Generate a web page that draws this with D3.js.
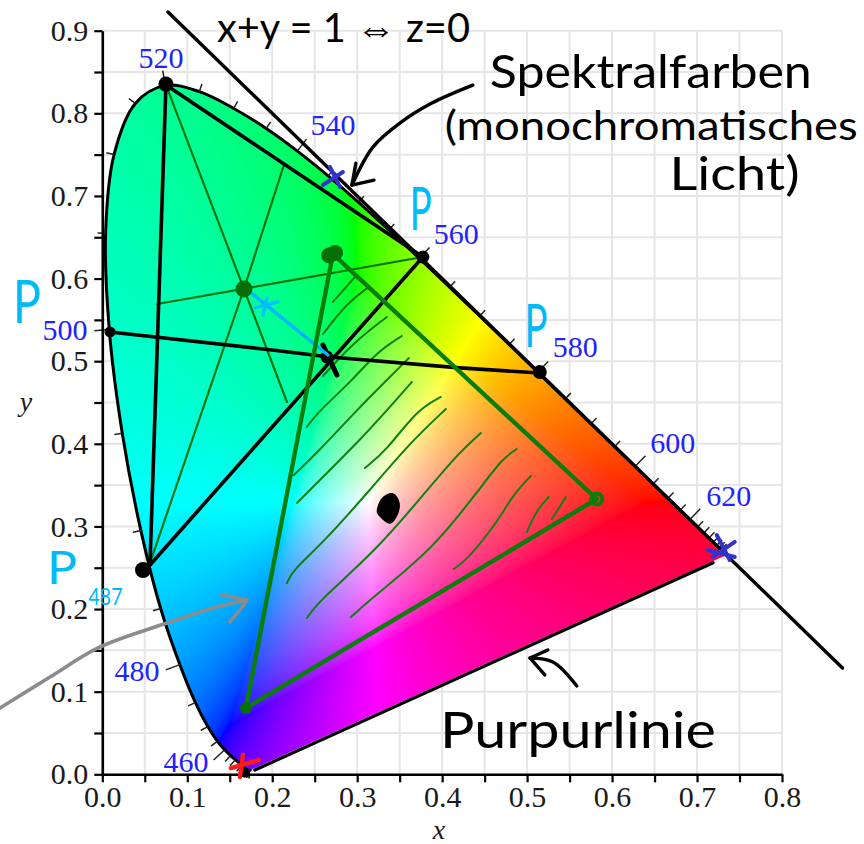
<!DOCTYPE html>
<html>
  <head>
    <meta charset="utf-8" />
    <title>CIE Normfarbtafel</title>
    <style>
      body {
        margin: 0;
        background: #fff;
      }
    </style>
    <script src="https://d3js.org/d3.v7.min.js"></script>
  </head>
  <body>
    <div id="chart"></div>
    <script>
      // spectral locus, every 5 nm
      var wavelengths = [380,385,390,395,400,405,410,415,420,425,430,435,440,445,450,455,460,465,470,475,480,485,490,495,500,505,510,515,520,525,530,535,540,545,550,555,560,565,570,575,580,585,590,595,600,605,610,615,620,625,630,635,640,645,650,655,660,700];
      var locusX = [.1741,.1740,.1738,.1736,.1733,.1730,.1726,.1721,.1714,.1703,.1689,.1669,.1644,.1611,.1566,.1510,.1440,.1355,.1241,.1096,.0913,.0687,.0454,.0235,.0082,.0039,.0139,.0389,.0743,.1142,.1547,.1929,.2296,.2658,.3016,.3373,.3731,.4087,.4441,.4788,.5125,.5448,.5752,.6029,.6270,.6482,.6658,.6801,.6915,.7006,.7079,.7140,.7190,.7230,.7260,.7283,.7300,.7347];
      var locusY = [.0050,.0050,.0049,.0049,.0048,.0048,.0048,.0048,.0051,.0058,.0069,.0086,.0109,.0138,.0177,.0227,.0297,.0399,.0578,.0868,.1327,.2007,.2950,.4127,.5384,.6548,.7502,.8120,.8338,.8262,.8059,.7816,.7543,.7243,.6923,.6589,.6245,.5896,.5547,.5202,.4866,.4544,.4242,.3965,.3725,.3514,.3340,.3197,.3083,.2993,.2920,.2859,.2809,.2770,.2740,.2717,.2700,.2653];

      var xTicks = d3.range(0, 17).map(function(i) { return i / 20; });
      var yTicks = d3.range(0, 19).map(function(i) { return i / 20; });

      // blue wavelength labels: text, x, y (baseline)
      var waveLabels = [
        ["520", .0691, .8549], ["540", .2714, .7738], ["560", .4167, .6419],
        ["580", .5567, .5051], ["600", .6714, .3889], ["620", .7373, .3247],
        ["500", -.0439, .5257], ["480", .0408, .1129], ["460", .0985, .0028]
      ];

      // straight construction lines
      var unitLine = [[.0773, .9227], [.8712, .1287]];
      var purpleLine = [[.1796, .0052], [.7189, .2561]];
      var blackLines = [
        [[.0749, .8344], [.3773, .6261]],
        [[.0749, .8344], [.0561, .2534]],
        [[.0561, .2534], [.3773, .6261]],
        [[.0091, .5354], [.1997, .5136], [.2679, .5051], [.4208, .4919], [.5149, .4857]]
      ];
      var blackDots = [[.0749, .8354, 7.5], [.3773, .6261, 6.5], [.5149, .4869, 7], [.0091, .5354, 5.5], [.0479, .2473, 8], [.2644, .5051, 6.5], [.1679, .0016, 4.5]];

      var thinGreen = [
        [[.0749, .8344], [.1667, .5874], [.2173, .4506]],
        [[.2138, .7375], [.1667, .5874], [.0549, .2521]],
        [[.0644, .5692], [.3773, .6261]]
      ];
      var greenTriangle = [[.2714, .6298], [.5820, .3332], [.1691, .0803], [.2714, .6298]];
      var greenDots = [[.1667, .5874, 8.5], [.2670, .6280, 8], [.2740, .6310, 8], [.1691, .0803, 6]];
      var greenRing = [.5820, .3332];

      // hatching inside the triangle
      var hatches = [
        [[.2714,.5717],[.2820,.5838],[.2973,.6019]],
        [[.2597,.5329],[.2879,.5705],[.3138,.5898]],
        [[.2597,.4821],[.2949,.5220],[.3350,.5535]],
        [[.2408,.4204],[.2538,.4385],[.2949,.4773],[.3232,.5112],[.3526,.5305]],
        [[.2255,.3623],[.2561,.3925],[.2997,.4410],[.3350,.4773],[.3608,.5039]],
        [[.2291,.3284],[.2644,.3647],[.3032,.4046],[.3385,.4446],[.3644,.4748]],
        [[.3091,.3707],[.3350,.3925],[.3702,.4410],[.3985,.4567]],
        [[.2173,.2315],[.2244,.2473],[.2597,.2800],[.3150,.3441],[.3620,.4010],[.4044,.4422]],
        [[.2408,.1892],[.2561,.2110],[.3232,.2715],[.3855,.3478],[.4208,.3901],[.4455,.4131]],
        [[.2926,.1904],[.3150,.2110],[.3538,.2437],[.3938,.2800],[.4408,.3405],[.4714,.3829],[.4879,.3937]],
        [[.4138,.2485],[.4291,.2594],[.4644,.3042],[.4832,.3381],[.5044,.3611]],
        [[.4997,.2933],[.5114,.3199],[.5255,.3356]],
        [[.5291,.3090],[.5456,.3356]]
      ];

      var cyanLine = [[.1738, .5838], [.2655, .5075]];
      var cyanCross = [[[.1797,.5644],[.2067,.5717]], [[.1938,.5765],[.1891,.5559]]];
      var blackCross = [[[.2597,.5196],[.2761,.4833]]];
      var whitePoint = [[.3243,.3222],[.3314,.3356],[.3420,.3393],[.3491,.3284],[.3455,.3114],[.3385,.3042],[.3243,.3163]];

      var greyArrow = [[-.1204,.0802],[-.0615,.1178],[-.0027,.1541],[.0761,.1831],[.1302,.2013],[.1702,.2110]];
      var greyHead = [[.1408,.2170],[.1702,.2110],[.1620,.1989],[.1502,.1844]];
      var spektralArrow = [[.4361,.8341],[.3879,.8124],[.3502,.7882],[.3185,.7591],[.2938,.7131]];
      var spektralHead = [[.2985,.7397],[.2938,.7131],[.3197,.7191]];
      var purpurArrow = [[.5585,.1069],[.5303,.1359],[.5033,.1408]];
      var purpurHead = [[.5244,.1504],[.5033,.1408],[.5208,.1202]];

      var blueCross = [
        [[.2597,.7133],[.2832,.7290]], [[.2679,.7351],[.2797,.7109]],
        [[.7126,.2715],[.7444,.2630]], [[.7232,.2896],[.7385,.2594]], [[.7444,.2812],[.7185,.2630]]
      ];
      var redCross = [[[.1514,.0076],[.1844,.0173]], [[.1655,.0234],[.1620,-.0033]]];

      // handwritten notes: text, x, y (baseline), size, width in px, colour
      var notes = [
        ["x+y = 1 ⇔ z=0", .1350, .8862, 40, 253, "#000"],
        ["Spektralfarben", .4561, .8306, 46, 322, "#000"],
        ["(monochromatisches", .4031, .7677, 40, 413, "#000"],
        ["Licht)", .6677, .7072, 46, 130, "#000"],
        ["Purpurlinie", .3974, .0318, 50, 276, "#000"],
        ["P", -.1050, .5463, 60, 28, "#00b9f7"],
        ["P", .3620, .6590, 60, 22, "#00b9f7"],
        ["P", .4970, .5175, 60, 23, "#00b9f7"],
        ["P", -.0651, .2300, 46, 30, "#00b9f7"],
        ["487", -.0162, .2050, 23, 34, "#00b9f7"]
      ];

      var width = 864, height = 844;
      var x = d3.scaleLinear().domain([0, 0.8]).range([102.3, 782]);
      var y = d3.scaleLinear().domain([0, 0.9]).range([774.3, 30.7]);

      var svg = d3.select("#chart").append("svg")
        .attr("width", width)
        .attr("height", height)
        .style("display", "block");

      // grid
      svg.append("g").selectAll("line").data(xTicks).join("line")
        .attr("x1", function(d) { return x(d); }).attr("x2", function(d) { return x(d); })
        .attr("y1", y(0)).attr("y2", y(0.9))
        .attr("stroke", "#e6e6e6").attr("stroke-width", 2);
      svg.append("g").selectAll("line").data(yTicks).join("line")
        .attr("x1", x(0)).attr("x2", x(0.8))
        .attr("y1", function(d) { return y(d); }).attr("y2", function(d) { return y(d); })
        .attr("stroke", "#e6e6e6").attr("stroke-width", 2);

      var locus = wavelengths.map(function(w, i) { return [locusX[i], locusY[i]]; });

      var line = d3.line().x(function(d) { return x(d[0]); }).y(function(d) { return y(d[1]); });
      var hand = d3.line().x(function(d) { return x(d[0]); }).y(function(d) { return y(d[1]); }).curve(d3.curveCatmullRom);
      var hatch = d3.line().x(function(d) { return x(d[0]); }).y(function(d) { return y(d[1]); }).curve(d3.curveBasis);
      var blob = d3.line().x(function(d) { return x(d[0]); }).y(function(d) { return y(d[1]); }).curve(d3.curveCatmullRomClosed);

      // colour fill of the horseshoe, clipped to the locus
      function gamma(c) {
        return 255 * Math.pow(c, 0.6);
      }
      function chroma(cx, cy) {
        var X = cx / cy, Z = (1 - cx - cy) / cy;
        var r = 3.2406 * X - 1.5372 - 0.4986 * Z;
        var g = -0.9689 * X + 1.8758 + 0.0415 * Z;
        var b = 0.0557 * X - 0.2040 + 1.0570 * Z;
        var low = Math.min(r, g, b, 0);
        r -= low; g -= low; b -= low;
        var m = Math.max(r, g, b);
        return [gamma(r / m), gamma(g / m), gamma(b / m)];
      }
      var canvas = document.createElement("canvas");
      canvas.width = width;
      canvas.height = height;
      var ctx = canvas.getContext("2d");
      var img = ctx.createImageData(width, height);
      for (var py = 20; py < 772; py++) {
        for (var px = 95; px < 740; px++) {
          var c = chroma(x.invert(px + 0.5), y.invert(py + 0.5)), k = (py * width + px) * 4;
          img.data[k] = c[0];
          img.data[k + 1] = c[1];
          img.data[k + 2] = c[2];
          img.data[k + 3] = 255;
        }
      }
      ctx.putImageData(img, 0, 0);
      svg.append("clipPath").attr("id", "locus-clip")
        .append("path").attr("d", hand(locus) + "Z");
      svg.append("image")
        .attr("width", width).attr("height", height)
        .attr("clip-path", "url(#locus-clip)")
        .attr("href", canvas.toDataURL());

      function strokes(data, gen, colour, w, cls) {
        svg.append("g").attr("class", cls).selectAll("path").data(data).join("path")
          .attr("d", gen)
          .attr("fill", "none")
          .attr("stroke", colour)
          .attr("stroke-width", w)
          .attr("stroke-linecap", "round")
          .attr("stroke-linejoin", "round");
      }
      function dots(data, colour) {
        svg.append("g").selectAll("circle").data(data).join("circle")
          .attr("cx", function(d) { return x(d[0]); })
          .attr("cy", function(d) { return y(d[1]); })
          .attr("r", function(d) { return d[2]; })
          .attr("fill", colour);
      }

      // outline of the locus
      strokes([locus], hand, "#000", 3, "locus");

      // wavelength ticks, outward from the white point
      var labelled = waveLabels.map(function(d) { return +d[0]; });
      var tickData = wavelengths.slice(0, -1).map(function(w, i) {
        var a = locus[Math.max(i - 1, 0)], b = locus[i + 1];
        var tx = x(b[0]) - x(a[0]), ty = y(b[1]) - y(a[1]);
        var n = Math.hypot(tx, ty) || 1;
        var nx = ty / n, ny = -tx / n;
        var px0 = x(locus[i][0]), py0 = y(locus[i][1]);
        if (nx * (px0 - x(0.33)) + ny * (py0 - y(0.33)) < 0) { nx = -nx; ny = -ny; }
        return { x0: px0, y0: py0, nx: nx, ny: ny, len: labelled.indexOf(w) >= 0 ? 15 : 8 };
      }).filter(function(d, i) { return wavelengths[i] >= 405; });
      svg.append("g").selectAll("line").data(tickData).join("line")
        .attr("x1", function(d) { return d.x0; })
        .attr("y1", function(d) { return d.y0; })
        .attr("x2", function(d) { return d.x0 + d.nx * d.len; })
        .attr("y2", function(d) { return d.y0 + d.ny * d.len; })
        .attr("stroke", "#222").attr("stroke-width", 1.5);

      // axes
      function tickText(d) {
        return Math.round(d * 20) % 2 === 0 ? d.toFixed(1) : "";
      }
      var gx = svg.append("g").attr("transform", "translate(0," + y(0) + ")")
        .call(d3.axisBottom(x).tickValues(xTicks).tickFormat(tickText).tickSize(8).tickSizeOuter(0));
      var gy = svg.append("g").attr("transform", "translate(" + x(0) + ",0)")
        .call(d3.axisLeft(y).tickValues(yTicks).tickFormat(tickText).tickSize(8).tickSizeOuter(0));
      [gx, gy].forEach(function(g) {
        g.selectAll(".domain").attr("stroke", "#000").attr("stroke-width", 2.6);
        g.selectAll(".tick line").attr("stroke", "#000").attr("stroke-width", 2.2);
        g.selectAll("text")
          .attr("font-family", "'Liberation Serif'")
          .attr("font-size", 30)
          .attr("fill", "#1a1a1a");
      });
      gx.selectAll("text").attr("y", 11);
      gy.selectAll("text").attr("x", -14);

      svg.append("text").attr("x", 439).attr("y", 839)
        .attr("text-anchor", "middle")
        .attr("font-family", "'Liberation Serif'").attr("font-style", "italic").attr("font-size", 28)
        .attr("fill", "#1a1a1a").text("x");
      svg.append("text").attr("x", 26).attr("y", 411)
        .attr("text-anchor", "middle")
        .attr("font-family", "'Liberation Serif'").attr("font-style", "italic").attr("font-size", 28)
        .attr("fill", "#1a1a1a").text("y");

      // wavelength labels
      svg.append("g").selectAll("text").data(waveLabels).join("text")
        .attr("x", function(d) { return x(d[1]); })
        .attr("y", function(d) { return y(d[2]); })
        .attr("text-anchor", "middle")
        .attr("font-family", "'Liberation Serif'")
        .attr("font-size", 30)
        .attr("fill", "#2222ff")
        .text(function(d) { return d[0]; });

      // drawn on top of the plot
      strokes(hatches, hatch, "#108010", 2, "hatches");
      strokes(thinGreen, line, "#0b740b", 2.2, "thin-green");
      strokes([unitLine], line, "#000", 3.4, "unit-line");
      strokes([purpleLine], line, "#000", 3.2, "purple-line");
      strokes(blackLines, line, "#000", 3.6, "black-lines");
      strokes(blackCross, line, "#000", 5, "black-cross");
      dots(blackDots, "#000");

      strokes([cyanLine], line, "#00b4ff", 3.4, "cyan-line");
      strokes(cyanCross, line, "#00c0ff", 3.4, "cyan-cross");

      strokes([greenTriangle], line, "#0b7d0b", 4.4, "green-triangle");
      dots(greenDots, "#067006");
      svg.append("circle")
        .attr("cx", x(greenRing[0])).attr("cy", y(greenRing[1]))
        .attr("r", 5.5)
        .attr("fill", "none").attr("stroke", "#0b7d0b").attr("stroke-width", 4);

      svg.append("path").attr("d", blob(whitePoint))
        .attr("fill", "#000").attr("stroke", "#000").attr("stroke-width", 1.5);

      strokes([greyArrow], hand, "#8c8c8c", 3.6, "grey-arrow");
      strokes([greyHead], line, "#8c8c8c", 3.6, "grey-head");
      strokes([spektralArrow, purpurArrow], hand, "#000", 3.4, "note-arrows");
      strokes([spektralHead, purpurHead], line, "#000", 3.4, "note-heads");
      strokes(blueCross, line, "#3333cc", 4, "blue-cross");
      strokes(redCross, line, "#ff1a1a", 4.4, "red-cross");

      // handwritten notes
      svg.append("g").selectAll("text").data(notes).join("text")
        .attr("x", function(d) { return x(d[1]); })
        .attr("y", function(d) { return y(d[2]); })
        .attr("font-family", "Lato")
        .attr("font-size", function(d) { return d[3]; })
        .attr("textLength", function(d) { return d[4]; })
        .attr("lengthAdjust", "spacingAndGlyphs")
        .attr("fill", function(d) { return d[5]; })
        .text(function(d) { return d[0]; });
    </script>
  </body>
</html>
